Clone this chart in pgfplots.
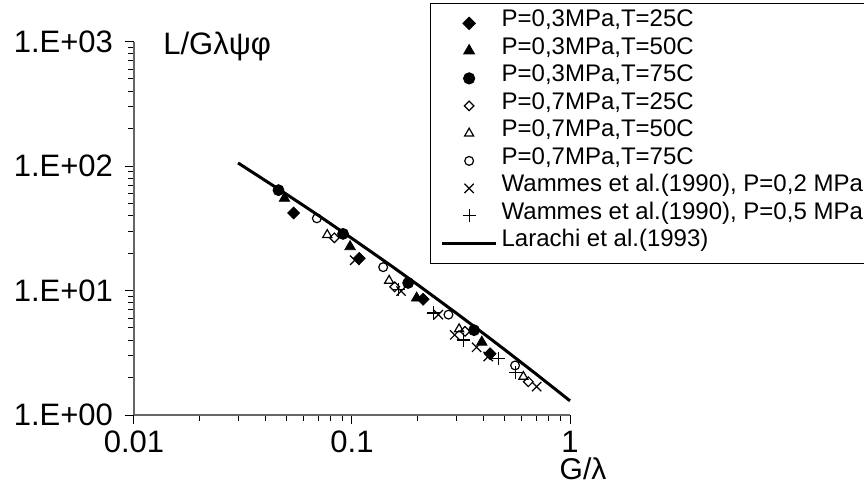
\documentclass[border=0pt]{standalone}
\usepackage{pgfplots}
\pgfplotsset{compat=1.18}
\usepackage{fontspec}
\setmainfont{Liberation Sans}
\begin{document}
\begin{tikzpicture}
\useasboundingbox (-67pt,-39pt) rectangle (365pt,207.5pt);
\begin{axis}[
  at={(0,0)}, anchor=south west,
  scale only axis, width=218pt, height=186.75pt,
  xmode=log, ymode=log,
  xmin=0.01, xmax=1, ymin=1, ymax=1000,
  axis lines*=left,
  axis line style={black!60, line width=0.6pt},
  tick align=outside,
  major tick length=4.5pt, minor tick length=3pt,
  tick style={black, line width=0.5pt},
  xtick={0.01,0.1,1}, xticklabels={0.01,0.1,1},
  ytick={1,10,100,1000}, yticklabels={1.E+00,1.E+01,1.E+02,1.E+03},
  ticklabel style={font=\fontsize{15.5}{17}\selectfont},
  yticklabel style={xshift=-2.5pt},
  clip=false,
  legend style={at={(0.679,1.103)}, anchor=north west, draw=black, line width=0.6pt,
    font=\fontsize{12}{13}\selectfont, inner xsep=5pt, inner ysep=3pt, row sep=0pt,
    nodes={inner xsep=2pt, inner ysep=0pt, text height=8.5pt, text depth=5.25pt}},
  legend cell align=left,
  legend image code/.code={\draw[mark repeat=2,mark phase=2,#1] plot coordinates {(0pt,0pt) (13.5pt,0pt) (27pt,0pt)};},
]
\addplot[only marks, mark=square*, mark size=2.1pt, mark options={rotate=45, fill=black, draw=black}] coordinates {
 (0.054,42) (0.108,18.1) (0.212,8.5) (0.43,3.1)};
\addlegendentry{P=0,3MPa,T=25C}
\addplot[only marks, mark=triangle*, mark size=3pt, mark options={fill=black, draw=black}] coordinates {
 (0.049,55) (0.098,22.5) (0.198,8.7) (0.394,3.85)};
\addlegendentry{P=0,3MPa,T=50C}
\addplot[only marks, mark=*, mark size=2.75pt, mark options={fill=black, draw=black}] coordinates {
 (0.046,64) (0.091,28.5) (0.181,11.5) (0.363,4.8)};
\addlegendentry{P=0,3MPa,T=75C}
\addplot[only marks, mark=square, mark size=1.7pt, mark options={rotate=45, draw=black, fill=white, line width=0.6pt}] coordinates {
 (0.083,26.5) (0.157,10.7) (0.33,4.7) (0.644,1.85)};
\addlegendentry{P=0,7MPa,T=25C}
\addplot[only marks, mark=triangle, mark size=2.6pt, mark options={draw=black, fill=white, line width=0.6pt}] coordinates {
 (0.077,28) (0.148,12.0) (0.31,4.9) (0.611,2.03)};
\addlegendentry{P=0,7MPa,T=50C}
\addplot[only marks, mark=o, mark size=2.2pt, mark options={draw=black, fill=white, line width=0.6pt}] coordinates {
 (0.069,38) (0.139,15.4) (0.277,6.4) (0.56,2.5)};
\addlegendentry{P=0,7MPa,T=75C}
\addplot[only marks, mark=x, mark size=3.3pt, mark options={draw=black, line width=0.6pt}] coordinates {
 (0.103,17.5) (0.168,9.9) (0.249,6.4) (0.296,4.4) (0.373,3.5) (0.422,2.95) (0.703,1.69)};
\addlegendentry{Wammes et al.(1990), P=0,2 MPa}
\addplot[only marks, mark=+, mark size=3.3pt, mark options={draw=black, line width=0.6pt}] coordinates {
 (0.163,10.2) (0.236,6.6) (0.324,4.0) (0.47,2.85) (0.56,2.2)};
\addlegendentry{Wammes et al.(1990), P=0,5 MPa}
\addplot[black, line width=1.5pt, no marks] coordinates {
 (0.03,105.9) (0.05,59.4) (0.07,40.2) (0.1,26.2) (0.15,15.97) (0.2,11.13) (0.3,6.61) (0.4,4.53) (0.5,3.365) (0.7,2.13) (1,1.30)};
\addlegendentry{Larachi et al.(1993)}
\node[anchor=base west, font=\fontsize{15.5}{17}\selectfont, inner sep=0pt] at (rel axis cs:0.0665,0.964) {L/Gλψφ};
\node[anchor=base, font=\fontsize{15}{17}\selectfont, inner sep=0pt] at (rel axis cs:1.030,-0.174) {G/λ};
\end{axis}
\end{tikzpicture}
\end{document}
